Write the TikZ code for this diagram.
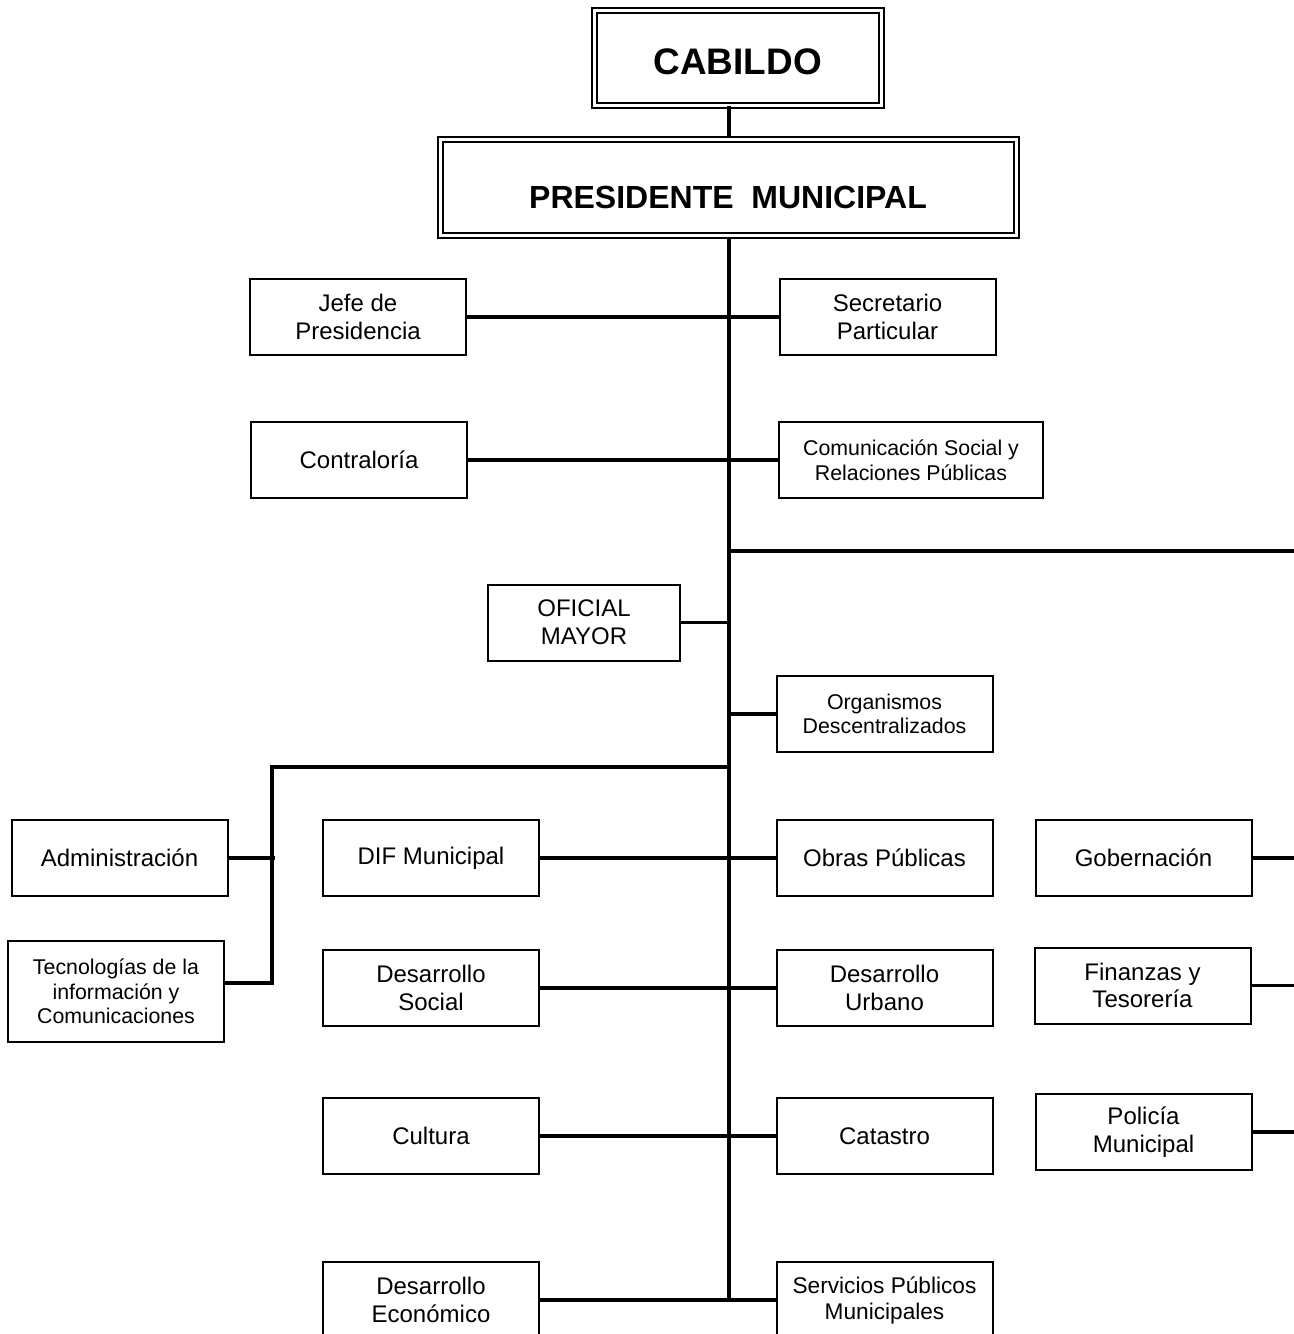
\documentclass[tikz,border=0pt]{standalone}
\usepackage{fontspec}
\setmainfont{Liberation Sans}

\begin{document}
\begin{tikzpicture}[x=0.75pt, y=-0.75pt,
    unidad/.style={draw, line width=1.5pt, align=center, inner sep=0pt,
      minimum width=162pt, minimum height=57pt,
      font=\fontsize{18}{20.7}\selectfont},
    chica/.style={font=\fontsize{16}{18.4}\selectfont},
    mando/.style={draw, double, double distance=2.25pt, line width=1.5pt,
      inner sep=0pt, text depth=0pt},
    linea/.style={line width=2.8pt}]
			%%%%% START %%%%%
			
			\useasboundingbox (0,0) rectangle (1294,1334);
			\clip (0,0) rectangle (1294,1334);
			
			\coordinate (tronco) at (729,1300);
			\coordinate (borde) at (1300,0);
			\coordinate (ramader) at (1300,551);
			\coordinate (ramaizq) at (272,767);
			\coordinate (ramafin) at (272,983);
			
			\node[mando, minimum width=214.9pt, minimum height=70.9pt, text height=25.8pt,
			  font=\fontsize{27.7}{32}\selectfont\bfseries] (cab) at (737.75,57.75) {CABILDO};
			\node[mando, minimum width=432pt, minimum height=72pt, text height=32pt,
			  font=\fontsize{24}{28}\selectfont\bfseries] (pres) at (728,187.5) {PRESIDENTE\ \ MUNICIPAL};
			
			\node[unidad] (jefe) at (358,317) {Jefe de\\Presidencia};
			\node[unidad] (secr) at (887.5,317) {Secretario\\Particular};
			\node[unidad] (contra) at (359,460) {Contraloría};
			\node[unidad, chica, minimum width=198pt] (comu) at (911,460) {Comunicación Social y\\Relaciones Públicas};
			\node[unidad, minimum width=144pt] (ofic) at (584,622.5) {OFICIAL\\MAYOR};
			\node[unidad, chica] (orga) at (884.5,714) {Organismos\\Descentralizados};
			
			\node[unidad] (admin) at (119.5,858) {Administración};
			\node[unidad, chica, minimum height=75.75pt] (tecno) at (116,991.5) {Tecnologías de la\\información y\\Comunicaciones};
			
			\node[unidad] (dif) at (431,858) {DIF Municipal};
			\node[unidad] (obras) at (884.5,858) {Obras Públicas};
			\node[unidad] (gob) at (1143.5,858) {Gobernación};
			
			\node[unidad] (desoc) at (431,988) {Desarrollo\\Social};
			\node[unidad] (desurb) at (884.5,988) {Desarrollo\\Urbano};
			\node[unidad] (finan) at (1142.5,985.5) {Finanzas y\\Tesorería};
			
			\node[unidad] (cult) at (431,1136) {Cultura};
			\node[unidad] (cata) at (884.5,1136) {Catastro};
			\node[unidad] (poli) at (1143.5,1132) {Policía\\Municipal};
			
			\node[unidad] (desec) at (431,1300) {Desarrollo\\Económico};
			\node[unidad, font=\fontsize{17}{19.5}\selectfont] (serv) at (884.5,1300) {Servicios Públicos\\Municipales};
			
			% tronco principal
			\draw[linea] (cab.south -| tronco) -- (pres.north -| tronco);
			\draw[linea] (pres.south -| tronco) -- (tronco);
			
			\draw[linea] (jefe.east) -- (secr.west);
			\draw[linea] (contra.east) -- (comu.west);
			\draw[linea] (ramader -| tronco) -- (ramader);
			\draw[linea] (ofic.east) -- (ofic.east -| tronco);
			\draw[linea] (orga.west -| tronco) -- (orga.west);
			
			% rama izquierda
			\draw[linea] (ramaizq -| tronco) -- (ramaizq) -- (ramafin) -- (tecno.east |- ramafin);
			\draw[linea] (admin.east) -- ([xshift=2pt]admin.east -| ramaizq);
			
			\draw[linea] (dif.east) -- (obras.west);
			\draw[linea] (desoc.east) -- (desurb.west);
			\draw[linea] (cult.east) -- (cata.west);
			\draw[linea] (desec.east) -- (serv.west);
			
			% rama derecha
			\draw[linea] (gob.east) -- (gob.east -| borde);
			\draw[linea] (finan.east) -- (finan.east -| borde);
			\draw[linea] (poli.east) -- (poli.east -| borde);
			
			%%%%% END %%%%%
\end{tikzpicture}
\end{document}
